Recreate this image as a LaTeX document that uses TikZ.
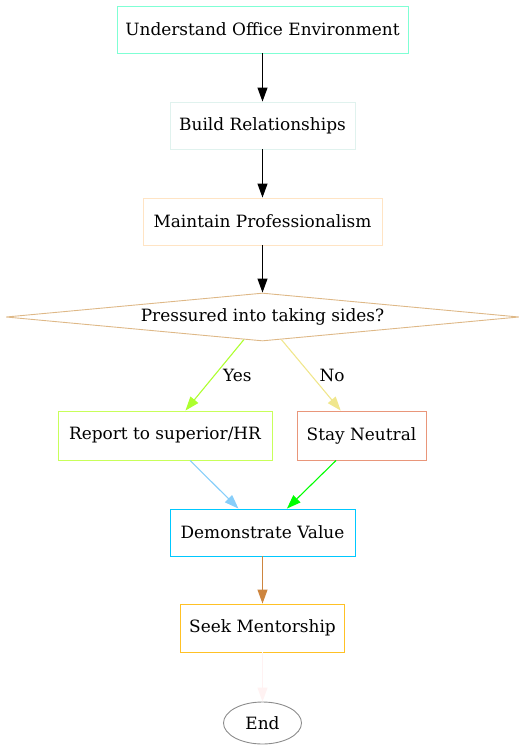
\documentclass[tikz,border=0pt]{standalone}
\usepackage{xcolor}
\usepackage{fontspec}
\setmainfont{DejaVu Serif}
\usetikzlibrary{arrows.meta,shapes.geometric}
\definecolor{envcol}{HTML}{7FFFD4}
\definecolor{relcol}{HTML}{E0F2EE}
\definecolor{profcol}{HTML}{FFE4C4}
\definecolor{deccol}{HTML}{DEB887}
\definecolor{repcol}{HTML}{C8FF5A}
\definecolor{stacol}{HTML}{E9967A}
\definecolor{democol}{HTML}{00C8FF}
\definecolor{seekcol}{HTML}{FFC125}
\definecolor{endcol}{HTML}{8C8C8C}
\definecolor{yescol}{HTML}{ADFF2F}
\definecolor{nocol}{HTML}{F0E68C}
\definecolor{rdcol}{HTML}{87CEFA}
\definecolor{sdcol}{HTML}{00FF00}
\definecolor{dscol}{HTML}{CD853F}
\definecolor{secol}{HTML}{FFF2F2}
\tikzset{
  box/.style={draw,line width=0.9pt,rectangle,inner sep=0pt,minimum height=47bp,font=\fontsize{17}{20}\selectfont},
  flow/.style={line width=1.1pt,-{Triangle[length=14bp,width=10bp]}},
  lbl/.style={font=\fontsize{17}{20}\selectfont,inner sep=2pt}
}
\begin{document}
\begin{tikzpicture}[x=1bp,y=-1bp]
\useasboundingbox (0,0) rectangle (525,754);
\node[box,envcol,text=black,minimum width=291bp] (env) at (262.5,29.5) {Understand Office Environment};
\node[box,relcol,text=black,minimum width=185bp] (rel) at (262.5,125.5) {Build Relationships};
\node[box,profcol,text=black,minimum width=239bp] (prof) at (262.5,221.5) {Maintain Professionalism};
\node[draw=deccol,line width=0.9pt,diamond,shape aspect=10.7,inner sep=0pt,minimum width=513bp,minimum height=48bp,font=\fontsize{17}{20}\selectfont] (dec) at (262.5,317) {Pressured into taking sides?};
\node[box,repcol,text=black,minimum width=214bp,minimum height=49bp] (rep) at (165,435.5) {Report to superior/HR};
\node[box,stacol,text=black,minimum width=129bp,minimum height=49bp] (sta) at (361.5,435.5) {Stay Neutral};
\node[box,democol,text=black,minimum width=185bp] (demo) at (262.5,532.5) {Demonstrate Value};
\node[box,seekcol,text=black,minimum width=164bp,minimum height=48bp] (seek) at (262.5,628) {Seek Mentorship};
\node[draw=endcol,line width=0.9pt,ellipse,inner sep=0pt,minimum width=78bp,minimum height=42bp,font=\fontsize{17}{20}\selectfont] (end) at (262.5,723) {End};
\draw[flow] (env) -- (rel);
\draw[flow] (rel) -- (prof);
\draw[flow] (prof) -- (dec);
\draw[flow,yescol] (dec) -- node[lbl,text=black,right,xshift=6bp] (lyes) {Yes} (rep);
\draw[flow,nocol] (dec) -- node[lbl,text=black,right,xshift=6bp] (lno) {No} (sta);
\draw[flow,rdcol] (rep) -- (demo);
\draw[flow,sdcol] (sta) -- (demo);
\draw[flow,dscol] (demo) -- (seek);
\draw[flow,secol] (seek) -- (end);
\end{tikzpicture}
\end{document}
